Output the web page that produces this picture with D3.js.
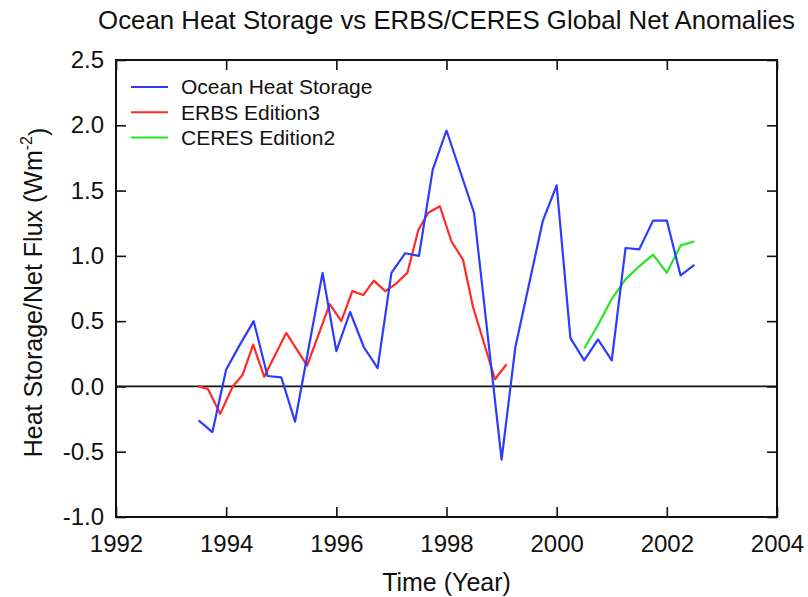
<!DOCTYPE html>
<html>
<head>
<meta charset="utf-8">
<script src="https://cdn.jsdelivr.net/npm/d3@7"></script>
<style>
  body { margin: 0; background: #fff; }
  svg text { font-family: "Liberation Sans", Arial, Helvetica, sans-serif; fill: #111; }
</style>
</head>
<body>
<div id="chart"></div>
<script>
// Ocean heat storage (quarterly)
const ohsYears = [1993.5, 1993.75, 1994.0, 1994.25, 1994.5, 1994.75, 1995.0, 1995.25, 1995.75,
  1996.0, 1996.25, 1996.5, 1996.75, 1997.0, 1997.25, 1997.5, 1997.75, 1998.0, 1998.5, 1999.0,
  1999.25, 1999.75, 2000.0, 2000.25, 2000.5, 2000.75, 2001.0, 2001.25, 2001.5, 2001.75, 2002.0,
  2002.25, 2002.5];
const ohsValues = [-0.26, -0.35, 0.13, 0.32, 0.50, 0.08, 0.07, -0.27, 0.87,
  0.27, 0.57, 0.30, 0.14, 0.87, 1.02, 1.00, 1.66, 1.96, 1.33, -0.56,
  0.30, 1.27, 1.54, 0.37, 0.20, 0.36, 0.20, 1.06, 1.05, 1.27, 1.27,
  0.85, 0.93];

// ERBS Edition3
const erbsYears = [1993.5, 1993.67, 1993.89, 1994.12, 1994.3, 1994.49, 1994.69, 1995.09, 1995.47,
  1995.88, 1996.09, 1996.29, 1996.49, 1996.68, 1996.89, 1997.09, 1997.29, 1997.49, 1997.67, 1997.88,
  1998.09, 1998.3, 1998.48, 1998.88, 1999.09];
const erbsValues = [0.0, -0.02, -0.21, 0.0, 0.09, 0.32, 0.075, 0.41, 0.16,
  0.63, 0.50, 0.73, 0.70, 0.81, 0.73, 0.79, 0.87, 1.20, 1.33, 1.38,
  1.11, 0.97, 0.61, 0.055, 0.17];

// CERES Edition2
const ceresYears = [2000.5, 2000.75, 2001.0, 2001.25, 2001.5, 2001.75, 2002.0, 2002.25, 2002.5];
const ceresValues = [0.29, 0.47, 0.67, 0.82, 0.92, 1.01, 0.87, 1.08, 1.11];

const xTicks = [1992, 1994, 1996, 1998, 2000, 2002, 2004];
const yTicks = [-1.0, -0.5, 0.0, 0.5, 1.0, 1.5, 2.0, 2.5];

const seriesNames = ["Ocean Heat Storage", "ERBS Edition3", "CERES Edition2"];
const seriesColors = ["#2b3cff", "#ff2b24", "#26e626"];

const width = 808, height = 597;
const margin = { top: 60, right: 31, bottom: 80, left: 116 };
const w = width - margin.left - margin.right;
const h = height - margin.top - margin.bottom;

const svg = d3.select("#chart").append("svg")
  .attr("width", width)
  .attr("height", height);

const g = svg.append("g")
  .attr("transform", `translate(${margin.left},${margin.top})`);

const x = d3.scaleLinear().domain([1992, 2004]).range([0, w]);
const y = d3.scaleLinear().domain([-1.0, 2.5]).range([h, 0]);

const styleAxis = (sel, fontSize) => {
  sel.select(".domain").remove();
  sel.selectAll(".tick line").attr("stroke", "#111").attr("stroke-width", 1.6);
  sel.selectAll(".tick text").style("font-size", fontSize);
};

// axes with inward ticks
g.append("g")
  .attr("transform", `translate(0,${h})`)
  .call(d3.axisBottom(x).tickValues(xTicks).tickFormat(d3.format("d")).tickSize(-10).tickPadding(18))
  .call((s) => styleAxis(s, "24px"));

g.append("g")
  .call(d3.axisTop(x).tickValues(xTicks).tickFormat("").tickSize(-10))
  .call((s) => styleAxis(s, "24px"));

g.append("g")
  .call(d3.axisLeft(y).tickValues(yTicks).tickFormat((d) => d.toFixed(1)).tickSize(-10).tickPadding(12))
  .call((s) => styleAxis(s, "24px"));

g.append("g")
  .attr("transform", `translate(${w},0)`)
  .call(d3.axisRight(y).tickValues(yTicks).tickFormat("").tickSize(-10))
  .call((s) => styleAxis(s, "24px"));

// frame
g.append("rect")
  .attr("width", w)
  .attr("height", h)
  .attr("fill", "none")
  .attr("stroke", "#111")
  .attr("stroke-width", 2);

// zero line
g.append("line")
  .attr("x1", 0).attr("x2", w)
  .attr("y1", y(0)).attr("y2", y(0))
  .attr("stroke", "#111")
  .attr("stroke-width", 1.8);

// series
const line = d3.line().x((d) => x(d[0])).y((d) => y(d[1]));
const series = [
  d3.zip(ohsYears, ohsValues),
  d3.zip(erbsYears, erbsValues),
  d3.zip(ceresYears, ceresValues),
];

// draw green, red, then blue on top
[2, 1, 0].forEach((i) => {
  g.append("path")
    .datum(series[i])
    .attr("fill", "none")
    .attr("stroke", seriesColors[i])
    .attr("stroke-width", 2.2)
    .attr("stroke-linejoin", "round")
    .attr("d", line);
});

// legend
const legend = g.append("g").attr("transform", "translate(15,27)");
seriesNames.forEach((name, i) => {
  const row = legend.append("g").attr("transform", `translate(0,${i * 25.3})`);
  row.append("line")
    .attr("x1", 0).attr("x2", 37)
    .attr("stroke", seriesColors[i])
    .attr("stroke-width", 2);
  row.append("text")
    .attr("x", 50)
    .attr("dy", "0.35em")
    .style("font-size", "21px")
    .text(name);
});

// title
svg.append("text")
  .attr("x", margin.left + w / 2)
  .attr("y", 29)
  .attr("text-anchor", "middle")
  .style("font-size", "25.8px")
  .text("Ocean Heat Storage vs ERBS/CERES Global Net Anomalies");

// x axis title
svg.append("text")
  .attr("x", margin.left + w / 2)
  .attr("y", 591)
  .attr("text-anchor", "middle")
  .style("font-size", "25px")
  .text("Time (Year)");

// y axis title with superscript
const yTitle = svg.append("text")
  .attr("transform", `translate(42,${margin.top + h / 2 + 4}) rotate(-90)`)
  .attr("text-anchor", "middle")
  .style("font-size", "25px");
yTitle.append("tspan").text("Heat Storage/Net Flux (Wm");
yTitle.append("tspan").attr("dy", "-0.6em").style("font-size", "16px").text("-2");
yTitle.append("tspan").attr("dy", "0.6em").text(")");
</script>
</body>
</html>
